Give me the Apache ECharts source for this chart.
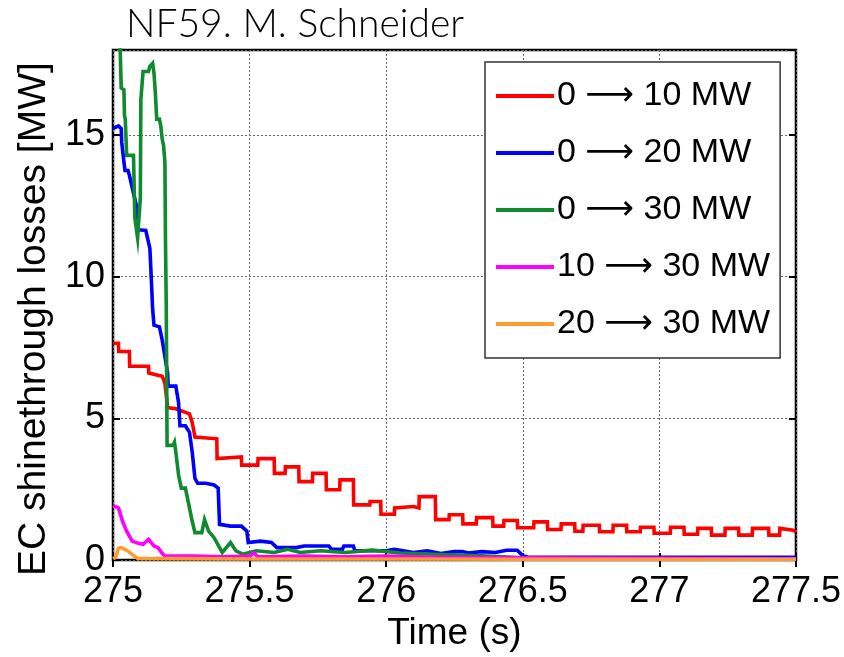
<!DOCTYPE html>
<html><head><meta charset="utf-8">
<script src="https://cdn.jsdelivr.net/npm/echarts@6/dist/echarts.min.js"></script>
<style>html,body{margin:0;padding:0;background:#fff}#c{width:844px;height:657px}</style>
</head><body><div id="c"></div>
<script>
// ---- data ----
const titleText = "NF59. M. Schneider";
const xTickValues = [275, 275.5, 276, 276.5, 277, 277.5];
const yTickValues = [0, 5, 10, 15];
const seriesNames = ["0 \u2192 10 MW", "0 \u2192 20 MW", "0 \u2192 30 MW", "10 \u2192 30 MW", "20 \u2192 30 MW"];

const redT = [275.00,275.02,275.021,275.06,275.061,275.13,275.131,275.18,275.19,275.20,275.23,275.28,275.29,275.30,275.38,275.381,275.47,275.471,275.53,275.531,275.59,275.591,275.63,275.631,275.68,275.681,275.73,275.731,275.78,275.781,275.83,275.831,275.88,275.881,275.94,275.941,275.98,275.981,276.03,276.031,276.10,276.12,276.121,276.18,276.181,276.23,276.231,276.28,276.281,276.33,276.331,276.39,276.391,276.43,276.431,276.48,276.481,276.54,276.541,276.59,276.591,276.64,276.641,276.69,276.691,276.72,276.721,276.78,276.781,276.83,276.831,276.88,276.881,276.93,276.931,276.98,276.981,277.04,277.041,277.09,277.091,277.14,277.141,277.19,277.191,277.24,277.241,277.29,277.291,277.34,277.341,277.40,277.401,277.44,277.441,277.49,277.50];
const redV = [7.65,7.65,7.36,7.36,6.84,6.84,6.60,6.49,6.25,5.38,5.34,5.16,4.86,4.34,4.28,3.58,3.64,3.35,3.35,3.58,3.58,3.06,3.06,3.29,3.29,2.77,2.77,3.06,3.06,2.48,2.48,2.83,2.83,1.95,1.95,2.07,2.07,1.62,1.62,1.84,1.89,1.84,2.24,2.24,1.43,1.43,1.60,1.60,1.28,1.28,1.50,1.50,1.20,1.20,1.40,1.40,1.14,1.14,1.35,1.35,1.08,1.08,1.28,1.28,1.02,1.02,1.23,1.23,1.00,1.00,1.23,1.23,1.00,1.00,1.16,1.16,0.95,0.95,1.16,1.16,0.91,0.91,1.12,1.12,0.88,0.88,1.12,1.12,0.88,0.88,1.12,1.12,0.88,0.88,1.12,1.05,1.00];

const blueT = [275.00,275.02,275.03,275.032,275.04,275.044,275.055,275.06,275.085,275.09,275.12,275.135,275.14,275.145,275.15,275.17,275.18,275.20,275.202,275.23,275.24,275.245,275.265,275.28,275.29,275.30,275.31,275.34,275.37,275.385,275.39,275.43,275.47,275.49,275.495,275.54,275.58,275.60,275.67,275.70,275.79,275.80,275.84,275.845,275.88,275.885,275.95,275.955,276.00,276.03,276.10,276.15,276.20,276.25,276.28,276.30,276.35,276.40,276.44,276.48,276.50,276.52,277.50];
const blueV = [15.23,15.32,15.23,14.74,14.05,13.75,13.75,13.58,12.53,11.66,11.63,11.00,9.98,8.87,8.29,8.23,7.77,6.60,6.14,6.14,5.56,4.74,4.74,4.51,3.81,2.88,2.71,2.71,2.65,2.54,1.26,1.20,1.20,1.02,0.62,0.67,0.62,0.44,0.44,0.50,0.50,0.38,0.38,0.50,0.50,0.33,0.33,0.38,0.33,0.38,0.27,0.33,0.23,0.30,0.30,0.25,0.30,0.27,0.35,0.35,0.15,0.10,0.10];

const greenT = [275.00,275.025,275.03,275.04,275.042,275.045,275.05,275.075,275.08,275.09,275.10,275.102,275.11,275.13,275.135,275.145,275.15,275.155,275.16,275.17,275.175,275.18,275.185,275.19,275.192,275.195,275.198,275.22,275.225,275.23,275.24,275.25,275.265,275.275,275.29,275.30,275.325,275.335,275.35,275.37,275.40,275.43,275.45,275.475,275.525,275.59,275.64,275.685,275.76,275.85,275.95,276.05,276.20,276.35,276.50,276.55,277.50];
const greenV = [19.50,18.50,16.66,16.60,15.67,15.56,14.28,14.28,12.07,11.37,12.77,16.25,17.24,17.24,17.42,17.53,17.18,16.49,15.56,15.56,15.32,14.86,14.63,14.05,11.37,8.93,4.05,4.05,4.16,3.81,3.00,2.54,2.54,2.07,1.37,0.97,0.97,1.43,1.02,0.79,0.27,0.62,0.33,0.21,0.33,0.27,0.38,0.27,0.33,0.27,0.35,0.25,0.20,0.15,0.08,0.03,0.03];

const magentaT = [275.00,275.02,275.035,275.05,275.07,275.09,275.11,275.13,275.15,275.165,275.18,275.19,275.30,275.40,275.50,275.515,275.53,275.70,275.85,276.00,276.20,276.50,277.50];
const magentaV = [1.92,1.84,1.37,1.02,0.67,0.60,0.56,0.73,0.50,0.44,0.24,0.14,0.14,0.12,0.14,0.25,0.12,0.14,0.12,0.14,0.10,0.08,0.05];

const orangeT = [275.00,275.01,275.02,275.03,275.05,275.07,275.09,275.50,276.00,276.50,277.00,277.50];
const orangeV = [0.05,0.10,0.42,0.44,0.35,0.20,0.06,0.04,0.04,0.03,0.03,0.03];

// ---- build ----
const zip = (t, v) => t.map((x, i) => [x, v[i]]);
const seriesData = [zip(redT, redV), zip(blueT, blueV), zip(greenT, greenV), zip(magentaT, magentaV), zip(orangeT, orangeV)];
const colors = ['#ff0000', '#0000ff', '#0f8a2e', '#ff00ff', '#ff9a2e'];

const chart = echarts.init(document.getElementById('c'), null, {renderer: 'canvas'});
const FONT = 'Liberation Sans';
const gridLine = {show: true, lineStyle: {color: '#666', type: [2, 2], width: 1}};
chart.setOption({
  animation: false,
  backgroundColor: '#fff',
  title: {text: titleText, left: 121, top: 0,
    textStyle: {fontFamily: 'Lato', fontWeight: 300, fontSize: 39, color: '#000'}},
  grid: {left: 113, right: 48, top: 50, bottom: 91, show: true, borderColor: '#000', borderWidth: 2.5, backgroundColor: '#fff'},
  legend: {
    orient: 'vertical', left: 485, top: 62,
    backgroundColor: '#fff', borderColor: '#333', borderWidth: 1.5,
    padding: [14, 10, 14, 11],
    itemWidth: 58, itemHeight: 4, itemGap: 17, icon: 'rect',
    formatter: n => n.replace(' \u2192 ', ' \u27F6 '),
    textStyle: {fontFamily: 'Liberation Sans, DejaVu Sans', fontSize: 34, color: '#000', lineHeight: 40, padding: [0, 0, 0, -2]},
    data: seriesNames
  },
  xAxis: [
    {type: 'value', min: 275, max: 277.5, interval: 0.5, position: 'bottom',
     name: 'Time (s)', nameLocation: 'middle', nameGap: 48,
     nameTextStyle: {fontFamily: FONT, fontSize: 37, color: '#000'},
     axisLine: {show: false}, axisTick: {show: true, inside: true, length: 7, lineStyle: {color: '#000', width: 2}},
     axisLabel: {fontFamily: FONT, fontSize: 36, color: '#000', margin: 14},
     splitLine: gridLine},
    {type: 'value', min: 275, max: 277.5, interval: 0.5, position: 'top',
     axisLine: {show: false}, axisTick: {show: true, inside: true, length: 7, lineStyle: {color: '#000', width: 2}},
     axisLabel: {show: false}, splitLine: {show: false}}
  ],
  yAxis: [
    {type: 'value', min: 0, max: 18, interval: 5, position: 'left',
     name: 'EC shinethrough losses [MW]', nameLocation: 'middle', nameGap: 56,
     nameTextStyle: {fontFamily: FONT, fontSize: 39, color: '#000', padding: [0, 28, 0, 0]},
     axisLine: {show: false}, axisTick: {show: true, inside: true, length: 7, lineStyle: {color: '#000', width: 2}},
     axisLabel: {fontFamily: FONT, fontSize: 36, color: '#000', margin: 8, showMaxLabel: false},
     splitLine: gridLine},
    {type: 'value', min: 0, max: 18, interval: 5, position: 'right',
     axisLine: {show: false}, axisTick: {show: true, inside: true, length: 7, lineStyle: {color: '#000', width: 2}},
     axisLabel: {show: false}, splitLine: {show: false}}
  ],
  series: seriesNames.map((n, i) => ({
    name: n, type: 'line', data: seriesData[i], showSymbol: false, symbol: 'none',
    clip: true, color: colors[i],
    lineStyle: {width: 3.6, color: colors[i], join: 'miter'}
  }))
});
</script></body></html>
